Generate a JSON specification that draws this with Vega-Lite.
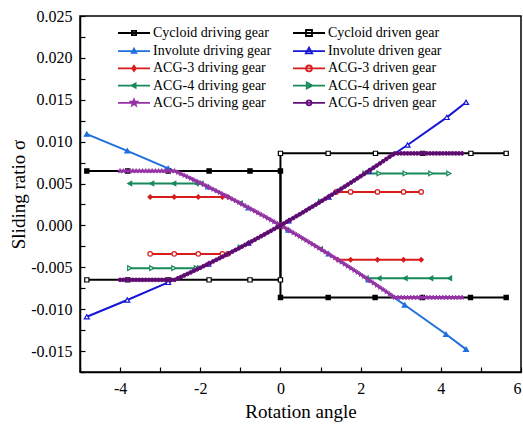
{
  "$schema": "https://vega.github.io/schema/vega-lite/v6.json",
  "width": 441,
  "height": 356,
  "autosize": {"type": "none"},
  "padding": {"left": 80, "top": 16, "right": 2, "bottom": 54},
  "background": "white",
  "data": {
    "values": [
      {"series": "Cycloid driving gear", "x": -4.83, "y": 0.0065},
      {"series": "Cycloid driving gear", "x": -3.81, "y": 0.0065},
      {"series": "Cycloid driving gear", "x": -2.8, "y": 0.0065},
      {"series": "Cycloid driving gear", "x": -1.78, "y": 0.0065},
      {"series": "Cycloid driving gear", "x": -0.76, "y": 0.0065},
      {"series": "Cycloid driving gear", "x": 0, "y": 0.0065},
      {"series": "Cycloid driving gear", "x": 0, "y": -0.0086},
      {"series": "Cycloid driving gear", "x": 1.19, "y": -0.0086},
      {"series": "Cycloid driving gear", "x": 2.36, "y": -0.0086},
      {"series": "Cycloid driving gear", "x": 3.54, "y": -0.0086},
      {"series": "Cycloid driving gear", "x": 4.74, "y": -0.0086},
      {"series": "Cycloid driving gear", "x": 5.63, "y": -0.0086},

      {"series": "Cycloid driven gear", "x": -4.83, "y": -0.0065},
      {"series": "Cycloid driven gear", "x": -3.81, "y": -0.0065},
      {"series": "Cycloid driven gear", "x": -2.8, "y": -0.0065},
      {"series": "Cycloid driven gear", "x": -1.78, "y": -0.0065},
      {"series": "Cycloid driven gear", "x": -0.76, "y": -0.0065},
      {"series": "Cycloid driven gear", "x": 0, "y": -0.0065},
      {"series": "Cycloid driven gear", "x": 0, "y": 0.0086},
      {"series": "Cycloid driven gear", "x": 1.19, "y": 0.0086},
      {"series": "Cycloid driven gear", "x": 2.37, "y": 0.0086},
      {"series": "Cycloid driven gear", "x": 3.55, "y": 0.0086},
      {"series": "Cycloid driven gear", "x": 4.75, "y": 0.0086},
      {"series": "Cycloid driven gear", "x": 5.63, "y": 0.0086},

      {"series": "Involute driving gear", "x": -4.83, "y": 0.0109},
      {"series": "Involute driving gear", "x": -3.82, "y": 0.0089},
      {"series": "Involute driving gear", "x": -2.8, "y": 0.0068},
      {"series": "Involute driving gear", "x": -1.8, "y": 0.0046},
      {"series": "Involute driving gear", "x": -0.8, "y": 0.0021},
      {"series": "Involute driving gear", "x": 0.2, "y": -0.00055},
      {"series": "Involute driving gear", "x": 1.2, "y": -0.0034},
      {"series": "Involute driving gear", "x": 2.2, "y": -0.0065},
      {"series": "Involute driving gear", "x": 3.1, "y": -0.0095},
      {"series": "Involute driving gear", "x": 4.13, "y": -0.013},
      {"series": "Involute driving gear", "x": 4.63, "y": -0.0148},

      {"series": "Involute driven gear", "x": -4.83, "y": -0.0109},
      {"series": "Involute driven gear", "x": -3.82, "y": -0.0089},
      {"series": "Involute driven gear", "x": -2.8, "y": -0.0068},
      {"series": "Involute driven gear", "x": -1.8, "y": -0.0046},
      {"series": "Involute driven gear", "x": -0.8, "y": -0.0021},
      {"series": "Involute driven gear", "x": 0.2, "y": 0.00055},
      {"series": "Involute driven gear", "x": 1.2, "y": 0.0034},
      {"series": "Involute driven gear", "x": 2.2, "y": 0.0065},
      {"series": "Involute driven gear", "x": 3.17, "y": 0.0096},
      {"series": "Involute driven gear", "x": 4.15, "y": 0.0129},
      {"series": "Involute driven gear", "x": 4.63, "y": 0.0147},

      {"series": "ACG-3 driving gear", "x": -3.25, "y": 0.0034},
      {"series": "ACG-3 driving gear", "x": -2.65, "y": 0.0034},
      {"series": "ACG-3 driving gear", "x": -2.05, "y": 0.0034},
      {"series": "ACG-3 driving gear", "x": -1.45, "y": 0.0034},
      {"series": "ACG-3 driving gear", "x": -1.31, "y": 0.0034},
      {"series": "ACG-3 driving gear", "x": 0, "y": 0},
      {"series": "ACG-3 driving gear", "x": 1.43, "y": -0.0041},
      {"series": "ACG-3 driving gear", "x": 1.75, "y": -0.0041},
      {"series": "ACG-3 driving gear", "x": 2.42, "y": -0.0041},
      {"series": "ACG-3 driving gear", "x": 3.07, "y": -0.0041},
      {"series": "ACG-3 driving gear", "x": 3.51, "y": -0.0041},

      {"series": "ACG-3 driven gear", "x": -3.25, "y": -0.0034},
      {"series": "ACG-3 driven gear", "x": -2.65, "y": -0.0034},
      {"series": "ACG-3 driven gear", "x": -2.05, "y": -0.0034},
      {"series": "ACG-3 driven gear", "x": -1.45, "y": -0.0034},
      {"series": "ACG-3 driven gear", "x": -1.31, "y": -0.0034},
      {"series": "ACG-3 driven gear", "x": 0, "y": 0},
      {"series": "ACG-3 driven gear", "x": 1.39, "y": 0.004},
      {"series": "ACG-3 driven gear", "x": 1.75, "y": 0.004},
      {"series": "ACG-3 driven gear", "x": 2.42, "y": 0.004},
      {"series": "ACG-3 driven gear", "x": 3.07, "y": 0.004},
      {"series": "ACG-3 driven gear", "x": 3.51, "y": 0.004},

      {"series": "ACG-4 driving gear", "x": -3.76, "y": 0.005},
      {"series": "ACG-4 driving gear", "x": -3.21, "y": 0.005},
      {"series": "ACG-4 driving gear", "x": -2.66, "y": 0.005},
      {"series": "ACG-4 driving gear", "x": -2.1, "y": 0.005},
      {"series": "ACG-4 driving gear", "x": -1.98, "y": 0.005},
      {"series": "ACG-4 driving gear", "x": -1, "y": 0.00263},
      {"series": "ACG-4 driving gear", "x": 0, "y": 0},
      {"series": "ACG-4 driving gear", "x": 1, "y": -0.00283},
      {"series": "ACG-4 driving gear", "x": 2.14, "y": -0.0063},
      {"series": "ACG-4 driving gear", "x": 2.46, "y": -0.0063},
      {"series": "ACG-4 driving gear", "x": 3.11, "y": -0.0063},
      {"series": "ACG-4 driving gear", "x": 3.75, "y": -0.0063},
      {"series": "ACG-4 driving gear", "x": 4.22, "y": -0.0063},

      {"series": "ACG-4 driven gear", "x": -3.76, "y": -0.0051},
      {"series": "ACG-4 driven gear", "x": -3.21, "y": -0.0051},
      {"series": "ACG-4 driven gear", "x": -2.66, "y": -0.0051},
      {"series": "ACG-4 driven gear", "x": -2.1, "y": -0.0051},
      {"series": "ACG-4 driven gear", "x": -2.02, "y": -0.0051},
      {"series": "ACG-4 driven gear", "x": -1, "y": -0.00263},
      {"series": "ACG-4 driven gear", "x": 0, "y": 0},
      {"series": "ACG-4 driven gear", "x": 1, "y": 0.00283},
      {"series": "ACG-4 driven gear", "x": 2.11, "y": 0.0062},
      {"series": "ACG-4 driven gear", "x": 2.46, "y": 0.0062},
      {"series": "ACG-4 driven gear", "x": 3.11, "y": 0.0062},
      {"series": "ACG-4 driven gear", "x": 3.75, "y": 0.0062},
      {"series": "ACG-4 driven gear", "x": 4.2, "y": 0.0062},

      {"series": "ACG-5 driving gear", "x": -4, "y": 0.0065},
      {"series": "ACG-5 driving gear", "x": -3.92, "y": 0.0065},
      {"series": "ACG-5 driving gear", "x": -3.84, "y": 0.0065},
      {"series": "ACG-5 driving gear", "x": -3.76, "y": 0.0065},
      {"series": "ACG-5 driving gear", "x": -3.68, "y": 0.0065},
      {"series": "ACG-5 driving gear", "x": -3.6, "y": 0.0065},
      {"series": "ACG-5 driving gear", "x": -3.52, "y": 0.0065},
      {"series": "ACG-5 driving gear", "x": -3.44, "y": 0.0065},
      {"series": "ACG-5 driving gear", "x": -3.36, "y": 0.0065},
      {"series": "ACG-5 driving gear", "x": -3.28, "y": 0.0065},
      {"series": "ACG-5 driving gear", "x": -3.2, "y": 0.0065},
      {"series": "ACG-5 driving gear", "x": -3.12, "y": 0.0065},
      {"series": "ACG-5 driving gear", "x": -3.04, "y": 0.0065},
      {"series": "ACG-5 driving gear", "x": -2.96, "y": 0.0065},
      {"series": "ACG-5 driving gear", "x": -2.88, "y": 0.0065},
      {"series": "ACG-5 driving gear", "x": -2.8, "y": 0.0065},
      {"series": "ACG-5 driving gear", "x": -2.72, "y": 0.0065},
      {"series": "ACG-5 driving gear", "x": -2.64, "y": 0.0065},
      {"series": "ACG-5 driving gear", "x": -2.56, "y": 0.00632},
      {"series": "ACG-5 driving gear", "x": -2.48, "y": 0.00615},
      {"series": "ACG-5 driving gear", "x": -2.4, "y": 0.00597},
      {"series": "ACG-5 driving gear", "x": -2.32, "y": 0.00579},
      {"series": "ACG-5 driving gear", "x": -2.24, "y": 0.00561},
      {"series": "ACG-5 driving gear", "x": -2.16, "y": 0.00542},
      {"series": "ACG-5 driving gear", "x": -2.08, "y": 0.00524},
      {"series": "ACG-5 driving gear", "x": -2, "y": 0.00506},
      {"series": "ACG-5 driving gear", "x": -1.92, "y": 0.00487},
      {"series": "ACG-5 driving gear", "x": -1.84, "y": 0.00468},
      {"series": "ACG-5 driving gear", "x": -1.76, "y": 0.00449},
      {"series": "ACG-5 driving gear", "x": -1.68, "y": 0.0043},
      {"series": "ACG-5 driving gear", "x": -1.6, "y": 0.00411},
      {"series": "ACG-5 driving gear", "x": -1.52, "y": 0.00392},
      {"series": "ACG-5 driving gear", "x": -1.44, "y": 0.00372},
      {"series": "ACG-5 driving gear", "x": -1.36, "y": 0.00353},
      {"series": "ACG-5 driving gear", "x": -1.28, "y": 0.00333},
      {"series": "ACG-5 driving gear", "x": -1.2, "y": 0.00313},
      {"series": "ACG-5 driving gear", "x": -1.12, "y": 0.00293},
      {"series": "ACG-5 driving gear", "x": -1.04, "y": 0.00273},
      {"series": "ACG-5 driving gear", "x": -0.96, "y": 0.00253},
      {"series": "ACG-5 driving gear", "x": -0.88, "y": 0.00233},
      {"series": "ACG-5 driving gear", "x": -0.8, "y": 0.00212},
      {"series": "ACG-5 driving gear", "x": -0.72, "y": 0.00191},
      {"series": "ACG-5 driving gear", "x": -0.64, "y": 0.00171},
      {"series": "ACG-5 driving gear", "x": -0.56, "y": 0.0015},
      {"series": "ACG-5 driving gear", "x": -0.48, "y": 0.00129},
      {"series": "ACG-5 driving gear", "x": -0.4, "y": 0.00108},
      {"series": "ACG-5 driving gear", "x": -0.32, "y": 0.00086},
      {"series": "ACG-5 driving gear", "x": -0.24, "y": 0.00065},
      {"series": "ACG-5 driving gear", "x": -0.16, "y": 0.00043},
      {"series": "ACG-5 driving gear", "x": -0.08, "y": 0.00022},
      {"series": "ACG-5 driving gear", "x": 0, "y": 0},
      {"series": "ACG-5 driving gear", "x": 0.08, "y": -0.00022},
      {"series": "ACG-5 driving gear", "x": 0.16, "y": -0.00044},
      {"series": "ACG-5 driving gear", "x": 0.24, "y": -0.00066},
      {"series": "ACG-5 driving gear", "x": 0.32, "y": -0.00088},
      {"series": "ACG-5 driving gear", "x": 0.4, "y": -0.00111},
      {"series": "ACG-5 driving gear", "x": 0.48, "y": -0.00133},
      {"series": "ACG-5 driving gear", "x": 0.56, "y": -0.00156},
      {"series": "ACG-5 driving gear", "x": 0.64, "y": -0.00179},
      {"series": "ACG-5 driving gear", "x": 0.72, "y": -0.00202},
      {"series": "ACG-5 driving gear", "x": 0.8, "y": -0.00225},
      {"series": "ACG-5 driving gear", "x": 0.88, "y": -0.00248},
      {"series": "ACG-5 driving gear", "x": 0.96, "y": -0.00272},
      {"series": "ACG-5 driving gear", "x": 1.04, "y": -0.00295},
      {"series": "ACG-5 driving gear", "x": 1.12, "y": -0.00319},
      {"series": "ACG-5 driving gear", "x": 1.2, "y": -0.00343},
      {"series": "ACG-5 driving gear", "x": 1.28, "y": -0.00366},
      {"series": "ACG-5 driving gear", "x": 1.36, "y": -0.0039},
      {"series": "ACG-5 driving gear", "x": 1.44, "y": -0.00415},
      {"series": "ACG-5 driving gear", "x": 1.52, "y": -0.00439},
      {"series": "ACG-5 driving gear", "x": 1.6, "y": -0.00463},
      {"series": "ACG-5 driving gear", "x": 1.68, "y": -0.00488},
      {"series": "ACG-5 driving gear", "x": 1.76, "y": -0.00512},
      {"series": "ACG-5 driving gear", "x": 1.84, "y": -0.00537},
      {"series": "ACG-5 driving gear", "x": 1.92, "y": -0.00562},
      {"series": "ACG-5 driving gear", "x": 2, "y": -0.00587},
      {"series": "ACG-5 driving gear", "x": 2.08, "y": -0.00612},
      {"series": "ACG-5 driving gear", "x": 2.16, "y": -0.00638},
      {"series": "ACG-5 driving gear", "x": 2.24, "y": -0.00663},
      {"series": "ACG-5 driving gear", "x": 2.32, "y": -0.00689},
      {"series": "ACG-5 driving gear", "x": 2.4, "y": -0.00715},
      {"series": "ACG-5 driving gear", "x": 2.48, "y": -0.0074},
      {"series": "ACG-5 driving gear", "x": 2.56, "y": -0.00766},
      {"series": "ACG-5 driving gear", "x": 2.64, "y": -0.00792},
      {"series": "ACG-5 driving gear", "x": 2.72, "y": -0.00819},
      {"series": "ACG-5 driving gear", "x": 2.8, "y": -0.00845},
      {"series": "ACG-5 driving gear", "x": 2.85, "y": -0.0086},
      {"series": "ACG-5 driving gear", "x": 2.93, "y": -0.0086},
      {"series": "ACG-5 driving gear", "x": 3.01, "y": -0.0086},
      {"series": "ACG-5 driving gear", "x": 3.09, "y": -0.0086},
      {"series": "ACG-5 driving gear", "x": 3.17, "y": -0.0086},
      {"series": "ACG-5 driving gear", "x": 3.25, "y": -0.0086},
      {"series": "ACG-5 driving gear", "x": 3.33, "y": -0.0086},
      {"series": "ACG-5 driving gear", "x": 3.41, "y": -0.0086},
      {"series": "ACG-5 driving gear", "x": 3.49, "y": -0.0086},
      {"series": "ACG-5 driving gear", "x": 3.57, "y": -0.0086},
      {"series": "ACG-5 driving gear", "x": 3.65, "y": -0.0086},
      {"series": "ACG-5 driving gear", "x": 3.73, "y": -0.0086},
      {"series": "ACG-5 driving gear", "x": 3.81, "y": -0.0086},
      {"series": "ACG-5 driving gear", "x": 3.89, "y": -0.0086},
      {"series": "ACG-5 driving gear", "x": 3.97, "y": -0.0086},
      {"series": "ACG-5 driving gear", "x": 4.05, "y": -0.0086},
      {"series": "ACG-5 driving gear", "x": 4.13, "y": -0.0086},
      {"series": "ACG-5 driving gear", "x": 4.21, "y": -0.0086},
      {"series": "ACG-5 driving gear", "x": 4.29, "y": -0.0086},
      {"series": "ACG-5 driving gear", "x": 4.37, "y": -0.0086},
      {"series": "ACG-5 driving gear", "x": 4.45, "y": -0.0086},
      {"series": "ACG-5 driving gear", "x": 4.53, "y": -0.0086},

      {"series": "ACG-5 driven gear", "x": -4, "y": -0.0065},
      {"series": "ACG-5 driven gear", "x": -3.92, "y": -0.0065},
      {"series": "ACG-5 driven gear", "x": -3.84, "y": -0.0065},
      {"series": "ACG-5 driven gear", "x": -3.76, "y": -0.0065},
      {"series": "ACG-5 driven gear", "x": -3.68, "y": -0.0065},
      {"series": "ACG-5 driven gear", "x": -3.6, "y": -0.0065},
      {"series": "ACG-5 driven gear", "x": -3.52, "y": -0.0065},
      {"series": "ACG-5 driven gear", "x": -3.44, "y": -0.0065},
      {"series": "ACG-5 driven gear", "x": -3.36, "y": -0.0065},
      {"series": "ACG-5 driven gear", "x": -3.28, "y": -0.0065},
      {"series": "ACG-5 driven gear", "x": -3.2, "y": -0.0065},
      {"series": "ACG-5 driven gear", "x": -3.12, "y": -0.0065},
      {"series": "ACG-5 driven gear", "x": -3.04, "y": -0.0065},
      {"series": "ACG-5 driven gear", "x": -2.96, "y": -0.0065},
      {"series": "ACG-5 driven gear", "x": -2.88, "y": -0.0065},
      {"series": "ACG-5 driven gear", "x": -2.8, "y": -0.0065},
      {"series": "ACG-5 driven gear", "x": -2.72, "y": -0.0065},
      {"series": "ACG-5 driven gear", "x": -2.64, "y": -0.0065},
      {"series": "ACG-5 driven gear", "x": -2.56, "y": -0.00632},
      {"series": "ACG-5 driven gear", "x": -2.48, "y": -0.00615},
      {"series": "ACG-5 driven gear", "x": -2.4, "y": -0.00597},
      {"series": "ACG-5 driven gear", "x": -2.32, "y": -0.00579},
      {"series": "ACG-5 driven gear", "x": -2.24, "y": -0.00561},
      {"series": "ACG-5 driven gear", "x": -2.16, "y": -0.00542},
      {"series": "ACG-5 driven gear", "x": -2.08, "y": -0.00524},
      {"series": "ACG-5 driven gear", "x": -2, "y": -0.00506},
      {"series": "ACG-5 driven gear", "x": -1.92, "y": -0.00487},
      {"series": "ACG-5 driven gear", "x": -1.84, "y": -0.00468},
      {"series": "ACG-5 driven gear", "x": -1.76, "y": -0.00449},
      {"series": "ACG-5 driven gear", "x": -1.68, "y": -0.0043},
      {"series": "ACG-5 driven gear", "x": -1.6, "y": -0.00411},
      {"series": "ACG-5 driven gear", "x": -1.52, "y": -0.00392},
      {"series": "ACG-5 driven gear", "x": -1.44, "y": -0.00372},
      {"series": "ACG-5 driven gear", "x": -1.36, "y": -0.00353},
      {"series": "ACG-5 driven gear", "x": -1.28, "y": -0.00333},
      {"series": "ACG-5 driven gear", "x": -1.2, "y": -0.00313},
      {"series": "ACG-5 driven gear", "x": -1.12, "y": -0.00293},
      {"series": "ACG-5 driven gear", "x": -1.04, "y": -0.00273},
      {"series": "ACG-5 driven gear", "x": -0.96, "y": -0.00253},
      {"series": "ACG-5 driven gear", "x": -0.88, "y": -0.00233},
      {"series": "ACG-5 driven gear", "x": -0.8, "y": -0.00212},
      {"series": "ACG-5 driven gear", "x": -0.72, "y": -0.00191},
      {"series": "ACG-5 driven gear", "x": -0.64, "y": -0.00171},
      {"series": "ACG-5 driven gear", "x": -0.56, "y": -0.0015},
      {"series": "ACG-5 driven gear", "x": -0.48, "y": -0.00129},
      {"series": "ACG-5 driven gear", "x": -0.4, "y": -0.00108},
      {"series": "ACG-5 driven gear", "x": -0.32, "y": -0.00086},
      {"series": "ACG-5 driven gear", "x": -0.24, "y": -0.00065},
      {"series": "ACG-5 driven gear", "x": -0.16, "y": -0.00043},
      {"series": "ACG-5 driven gear", "x": -0.08, "y": -0.00022},
      {"series": "ACG-5 driven gear", "x": 0, "y": 0},
      {"series": "ACG-5 driven gear", "x": 0.08, "y": 0.00022},
      {"series": "ACG-5 driven gear", "x": 0.16, "y": 0.00044},
      {"series": "ACG-5 driven gear", "x": 0.24, "y": 0.00066},
      {"series": "ACG-5 driven gear", "x": 0.32, "y": 0.00088},
      {"series": "ACG-5 driven gear", "x": 0.4, "y": 0.00111},
      {"series": "ACG-5 driven gear", "x": 0.48, "y": 0.00133},
      {"series": "ACG-5 driven gear", "x": 0.56, "y": 0.00156},
      {"series": "ACG-5 driven gear", "x": 0.64, "y": 0.00179},
      {"series": "ACG-5 driven gear", "x": 0.72, "y": 0.00202},
      {"series": "ACG-5 driven gear", "x": 0.8, "y": 0.00225},
      {"series": "ACG-5 driven gear", "x": 0.88, "y": 0.00248},
      {"series": "ACG-5 driven gear", "x": 0.96, "y": 0.00272},
      {"series": "ACG-5 driven gear", "x": 1.04, "y": 0.00295},
      {"series": "ACG-5 driven gear", "x": 1.12, "y": 0.00319},
      {"series": "ACG-5 driven gear", "x": 1.2, "y": 0.00343},
      {"series": "ACG-5 driven gear", "x": 1.28, "y": 0.00366},
      {"series": "ACG-5 driven gear", "x": 1.36, "y": 0.0039},
      {"series": "ACG-5 driven gear", "x": 1.44, "y": 0.00415},
      {"series": "ACG-5 driven gear", "x": 1.52, "y": 0.00439},
      {"series": "ACG-5 driven gear", "x": 1.6, "y": 0.00463},
      {"series": "ACG-5 driven gear", "x": 1.68, "y": 0.00488},
      {"series": "ACG-5 driven gear", "x": 1.76, "y": 0.00512},
      {"series": "ACG-5 driven gear", "x": 1.84, "y": 0.00537},
      {"series": "ACG-5 driven gear", "x": 1.92, "y": 0.00562},
      {"series": "ACG-5 driven gear", "x": 2, "y": 0.00587},
      {"series": "ACG-5 driven gear", "x": 2.08, "y": 0.00612},
      {"series": "ACG-5 driven gear", "x": 2.16, "y": 0.00638},
      {"series": "ACG-5 driven gear", "x": 2.24, "y": 0.00663},
      {"series": "ACG-5 driven gear", "x": 2.32, "y": 0.00689},
      {"series": "ACG-5 driven gear", "x": 2.4, "y": 0.00715},
      {"series": "ACG-5 driven gear", "x": 2.48, "y": 0.0074},
      {"series": "ACG-5 driven gear", "x": 2.56, "y": 0.00766},
      {"series": "ACG-5 driven gear", "x": 2.64, "y": 0.00792},
      {"series": "ACG-5 driven gear", "x": 2.72, "y": 0.00819},
      {"series": "ACG-5 driven gear", "x": 2.8, "y": 0.00845},
      {"series": "ACG-5 driven gear", "x": 2.85, "y": 0.0086},
      {"series": "ACG-5 driven gear", "x": 2.93, "y": 0.0086},
      {"series": "ACG-5 driven gear", "x": 3.01, "y": 0.0086},
      {"series": "ACG-5 driven gear", "x": 3.09, "y": 0.0086},
      {"series": "ACG-5 driven gear", "x": 3.17, "y": 0.0086},
      {"series": "ACG-5 driven gear", "x": 3.25, "y": 0.0086},
      {"series": "ACG-5 driven gear", "x": 3.33, "y": 0.0086},
      {"series": "ACG-5 driven gear", "x": 3.41, "y": 0.0086},
      {"series": "ACG-5 driven gear", "x": 3.49, "y": 0.0086},
      {"series": "ACG-5 driven gear", "x": 3.57, "y": 0.0086},
      {"series": "ACG-5 driven gear", "x": 3.65, "y": 0.0086},
      {"series": "ACG-5 driven gear", "x": 3.73, "y": 0.0086},
      {"series": "ACG-5 driven gear", "x": 3.81, "y": 0.0086},
      {"series": "ACG-5 driven gear", "x": 3.89, "y": 0.0086},
      {"series": "ACG-5 driven gear", "x": 3.97, "y": 0.0086},
      {"series": "ACG-5 driven gear", "x": 4.05, "y": 0.0086},
      {"series": "ACG-5 driven gear", "x": 4.13, "y": 0.0086},
      {"series": "ACG-5 driven gear", "x": 4.21, "y": 0.0086},
      {"series": "ACG-5 driven gear", "x": 4.29, "y": 0.0086},
      {"series": "ACG-5 driven gear", "x": 4.37, "y": 0.0086},
      {"series": "ACG-5 driven gear", "x": 4.45, "y": 0.0086},
      {"series": "ACG-5 driven gear", "x": 4.53, "y": 0.0086}
    ]
  },
  "encoding": {
    "x": {
      "field": "x",
      "type": "quantitative",
      "scale": {"domain": [-5, 6], "nice": false, "zero": false},
      "axis": {
        "title": "Rotation angle",
        "values": [-5, -4, -3, -2, -1, 0, 1, 2, 3, 4, 5, 6],
        "labelExpr": "datum.value % 2 == 0 ? replace(datum.label, '\u2212', '-') : ''",
        "labelFlush": true,
        "labelOverlap": false,
        "tickSize": -5,
        "labelPadding": 13,
        "titlePadding": 6
      }
    },
    "y": {
      "field": "y",
      "type": "quantitative",
      "scale": {"domain": [-0.0175, 0.025], "nice": false, "zero": false},
      "axis": {
        "title": "Sliding ratio σ",
        "values": [-0.0175, -0.015, -0.0125, -0.01, -0.0075, -0.005, -0.0025, 0, 0.0025, 0.005, 0.0075, 0.01, 0.0125, 0.015, 0.0175, 0.02, 0.0225, 0.025],
        "labelExpr": "abs(round(datum.value * 10000)) % 50 == 0 ? replace(format(datum.value, '.3f'), '\u2212', '-') : ''",
        "labelFlush": false,
        "labelOverlap": false,
        "tickSize": -5,
        "labelPadding": 13,
        "titlePadding": 2
      }
    }
  },
  "layer": [
    {
      "mark": {"type": "point", "opacity": 0, "strokeWidth": 1.8},
      "encoding": {
        "shape": {
          "field": "series", "type": "nominal",
          "scale": {
            "domain": ["Cycloid driving gear", "Involute driving gear", "ACG-3 driving gear", "ACG-4 driving gear", "ACG-5 driving gear", "Cycloid driven gear", "Involute driven gear", "ACG-3 driven gear", "ACG-4 driven gear", "ACG-5 driven gear"],
            "range": [
              "M-3.2,0H3.2M-0.42,-0.42H0.42V0.42H-0.42Z",
              "M-3.2,0H3.2M0,-0.51L0.45,0.32H-0.45Z",
              "M-3.2,0H3.2M0,-0.51L0.38,0L0,0.51L-0.38,0Z",
              "M-3.2,0H3.2M-0.48,0L0.32,-0.42V0.42Z",
              "M-3.2,0H3.2M0,-0.65L0.18,-0.22L0.61,-0.22L0.26,0.08L0.39,0.51L0,0.26L-0.39,0.51L-0.26,0.08L-0.61,-0.22L-0.18,-0.22Z",
              "M-3.2,0H3.2M-0.6,-0.6H0.6V0.6H-0.6Z",
              "M-3.2,0H3.2M0,-0.72L0.64,0.45H-0.64Z",
              "M-3.2,0H3.2M0.58,0A0.58,0.58,0,1,1,-0.58,0A0.58,0.58,0,1,1,0.58,0Z",
              "M-3.2,0H3.2M0.68,0L-0.45,-0.6V0.6Z",
              "M-3.2,0H3.2M0.5,0A0.5,0.5,0,1,1,-0.5,0A0.5,0.5,0,1,1,0.5,0Z"
            ]
          },
          "legend": {"orient": "none", "legendX": 47, "legendY": 10, "columns": 2, "title": null, "symbolSize": 100, "symbolStrokeWidth": 1.8, "labelFont": "Liberation Serif", "labelFontSize": 14, "labelColor": "#000000", "labelOffset": 12, "rowPadding": 3.2, "columnPadding": 17, "padding": 0}
        },
        "stroke": {
          "field": "series", "type": "nominal",
          "scale": {
            "domain": ["Cycloid driving gear", "Involute driving gear", "ACG-3 driving gear", "ACG-4 driving gear", "ACG-5 driving gear", "Cycloid driven gear", "Involute driven gear", "ACG-3 driven gear", "ACG-4 driven gear", "ACG-5 driven gear"],
            "range": ["#000000", "#1f6fdc", "#d81c1c", "#17895a", "#9632a6", "#000000", "#1616d6", "#d81c1c", "#17895a", "#65107a"]
          },
          "legend": {"orient": "none", "legendX": 47, "legendY": 10, "columns": 2, "title": null, "symbolSize": 100, "symbolStrokeWidth": 1.8, "labelFont": "Liberation Serif", "labelFontSize": 14, "labelColor": "#000000", "labelOffset": 12, "rowPadding": 3.2, "columnPadding": 17, "padding": 0}
        },
        "fill": {
          "field": "series", "type": "nominal",
          "scale": {
            "domain": ["Cycloid driving gear", "Involute driving gear", "ACG-3 driving gear", "ACG-4 driving gear", "ACG-5 driving gear", "Cycloid driven gear", "Involute driven gear", "ACG-3 driven gear", "ACG-4 driven gear", "ACG-5 driven gear"],
            "range": ["#000000", "#1f6fdc", "#d81c1c", "#17895a", "#9632a6", "#ffffff", "#ffffff", "#ffffff", "#ffffff", "#5a0a6a"]
          },
          "legend": {"orient": "none", "legendX": 47, "legendY": 10, "columns": 2, "title": null, "symbolSize": 100, "symbolStrokeWidth": 1.8, "labelFont": "Liberation Serif", "labelFontSize": 14, "labelColor": "#000000", "labelOffset": 12, "rowPadding": 3.2, "columnPadding": 17, "padding": 0}
        }
      }
    },
    {
      "transform": [{"filter": {"not": {"field": "series", "oneOf": ["ACG-5 driving gear", "ACG-5 driven gear"]}}}],
      "mark": {"type": "line", "strokeWidth": 2},
      "encoding": {
        "color": {
          "field": "series", "type": "nominal", "legend": null,
          "scale": {
            "domain": ["Cycloid driving gear", "Cycloid driven gear", "Involute driving gear", "Involute driven gear", "ACG-3 driving gear", "ACG-3 driven gear", "ACG-4 driving gear", "ACG-4 driven gear", "ACG-5 driving gear", "ACG-5 driven gear"],
            "range": ["#000000", "#000000", "#1f6fdc", "#1616d6", "#d81c1c", "#d81c1c", "#17895a", "#17895a", "#9632a6", "#7b1a8a"]
          }
        },
        "order": {"value": null}
      }
    },
    {
      "transform": [{"filter": {"field": "series", "oneOf": ["Cycloid driving gear", "Cycloid driven gear"]}}],
      "mark": {"type": "point", "shape": "square", "size": 18, "strokeWidth": 1.2, "opacity": 1},
      "encoding": {
        "stroke": {"field": "series", "type": "nominal", "legend": null},
        "fill": {"field": "series", "type": "nominal", "legend": null}
      }
    },
    {
      "transform": [{"filter": {"field": "series", "oneOf": ["Involute driving gear", "Involute driven gear"]}}],
      "mark": {"type": "point", "shape": "triangle-up", "size": 24, "strokeWidth": 1.2, "opacity": 1},
      "encoding": {
        "stroke": {"field": "series", "type": "nominal", "legend": null},
        "fill": {"field": "series", "type": "nominal", "legend": null}
      }
    },
    {
      "transform": [{"filter": {"field": "series", "equal": "ACG-3 driving gear"}}],
      "mark": {"type": "point", "shape": "diamond", "size": 18, "strokeWidth": 1.2, "opacity": 1},
      "encoding": {
        "stroke": {"field": "series", "type": "nominal", "legend": null},
        "fill": {"field": "series", "type": "nominal", "legend": null}
      }
    },
    {
      "transform": [{"filter": {"field": "series", "equal": "ACG-3 driven gear"}}],
      "mark": {"type": "point", "shape": "circle", "size": 20, "strokeWidth": 1.2, "opacity": 1},
      "encoding": {
        "stroke": {"field": "series", "type": "nominal", "legend": null},
        "fill": {"field": "series", "type": "nominal", "legend": null}
      }
    },
    {
      "transform": [{"filter": {"field": "series", "equal": "ACG-4 driving gear"}}],
      "mark": {"type": "point", "shape": "triangle-left", "size": 20, "strokeWidth": 1.2, "opacity": 1},
      "encoding": {
        "stroke": {"field": "series", "type": "nominal", "legend": null},
        "fill": {"field": "series", "type": "nominal", "legend": null}
      }
    },
    {
      "transform": [{"filter": {"field": "series", "equal": "ACG-4 driven gear"}}],
      "mark": {"type": "point", "shape": "triangle-right", "size": 22, "strokeWidth": 1.2, "opacity": 1},
      "encoding": {
        "stroke": {"field": "series", "type": "nominal", "legend": null},
        "fill": {"field": "series", "type": "nominal", "legend": null}
      }
    },
    {
      "transform": [{"filter": {"field": "series", "oneOf": ["ACG-5 driving gear", "ACG-5 driven gear"]}}],
      "mark": {"type": "line", "strokeWidth": 2},
      "encoding": {
        "color": {"field": "series", "type": "nominal", "legend": null},
        "order": {"value": null}
      }
    },
    {
      "transform": [{"filter": {"field": "series", "equal": "ACG-5 driving gear"}}],
      "mark": {"type": "point", "shape": "M0,-1L0.24,-0.31L0.95,-0.31L0.38,0.12L0.59,0.81L0,0.38L-0.59,0.81L-0.38,0.12L-0.95,-0.31L-0.24,-0.31Z", "size": 24, "strokeWidth": 0.8, "opacity": 1},
      "encoding": {
        "stroke": {"field": "series", "type": "nominal", "legend": null},
        "fill": {"field": "series", "type": "nominal", "legend": null}
      }
    },
    {
      "transform": [{"filter": {"field": "series", "equal": "ACG-5 driven gear"}}],
      "mark": {"type": "point", "shape": "circle", "size": 14, "strokeWidth": 1, "opacity": 1},
      "encoding": {
        "stroke": {"field": "series", "type": "nominal", "legend": null},
        "fill": {"field": "series", "type": "nominal", "legend": null}
      }
    }
  ],
  "config": {
    "view": {"stroke": "#000000", "strokeWidth": 1.5},
    "axis": {
      "grid": false,
      "domainColor": "#000000",
      "domainWidth": 1.5,
      "tickColor": "#000000",
      "tickWidth": 1.2,
      "labelFont": "Liberation Serif",
      "labelFontSize": 16,
      "labelColor": "#000000",
      "titleFont": "Liberation Serif",
      "titleFontSize": 19,
      "titleFontWeight": "normal",
      "titleColor": "#000000"
    }
  }
}
